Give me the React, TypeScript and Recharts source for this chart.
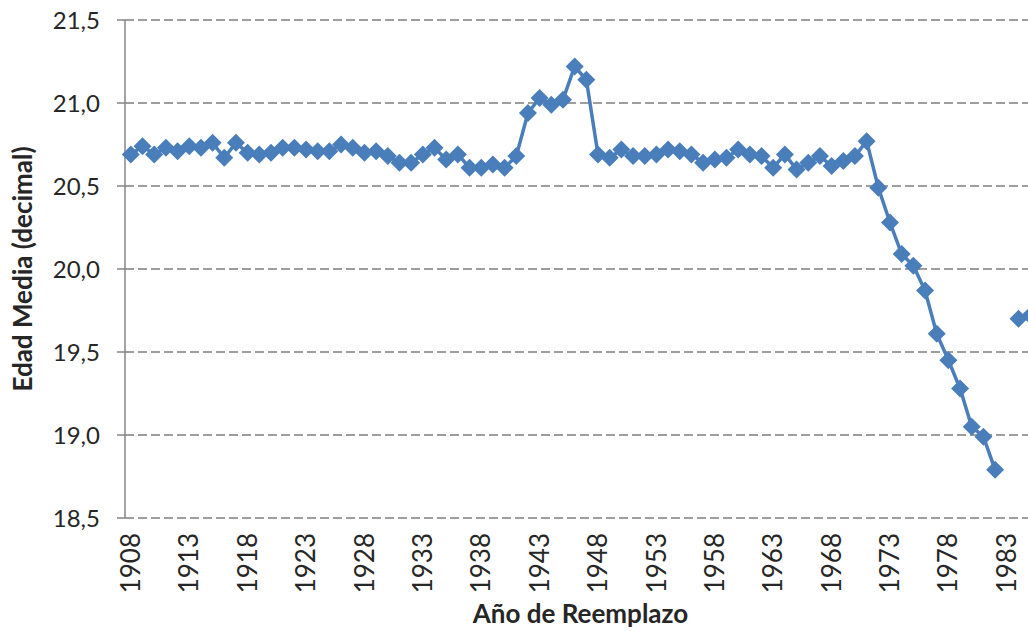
import React from 'react';
import { LineChart, Line, XAxis, YAxis, CartesianGrid } from 'recharts';

// one category per year, 1983 has no value
const years = [
  1908, 1909, 1910, 1911, 1912, 1913, 1914, 1915, 1916, 1917,
  1918, 1919, 1920, 1921, 1922, 1923, 1924, 1925, 1926, 1927,
  1928, 1929, 1930, 1931, 1932, 1933, 1934, 1935, 1936, 1937,
  1938, 1939, 1940, 1941, 1942, 1943, 1944, 1945, 1946, 1947,
  1948, 1949, 1950, 1951, 1952, 1953, 1954, 1955, 1956, 1957,
  1958, 1959, 1960, 1961, 1962, 1963, 1964, 1965, 1966, 1967,
  1968, 1969, 1970, 1971, 1972, 1973, 1974, 1975, 1976, 1977,
  1978, 1979, 1980, 1981, 1982, 1983, 1984, 1985,
];

const edadMedia: (number | null)[] = [
  20.69, 20.74, 20.69, 20.73, 20.71, 20.74, 20.73, 20.76, 20.67, 20.76,
  20.70, 20.69, 20.70, 20.73, 20.73, 20.72, 20.71, 20.71, 20.75, 20.73,
  20.70, 20.71, 20.68, 20.64, 20.64, 20.69, 20.73, 20.66, 20.69, 20.61,
  20.61, 20.63, 20.61, 20.68, 20.94, 21.03, 20.99, 21.02, 21.22, 21.14,
  20.69, 20.67, 20.72, 20.68, 20.68, 20.69, 20.72, 20.71, 20.69, 20.64,
  20.66, 20.67, 20.72, 20.69, 20.68, 20.61, 20.69, 20.60, 20.64, 20.68,
  20.62, 20.65, 20.68, 20.77, 20.49, 20.28, 20.09, 20.02, 19.87, 19.61,
  19.45, 19.28, 19.05, 18.99, 18.79, null, 19.70, 19.72,
];

const yearLabels = [1908, 1913, 1918, 1923, 1928, 1933, 1938, 1943, 1948, 1953, 1958, 1963, 1968, 1973, 1978, 1983];
// tick marks sit between categories
const tickMarks = [1907.5, 1912.5, 1917.5, 1922.5, 1927.5, 1932.5, 1937.5, 1942.5, 1947.5, 1952.5, 1957.5, 1962.5, 1967.5, 1972.5, 1977.5, 1982.5];
const xDomain = [1907.5, 1985.5];
const yTicks = [18.5, 19, 19.5, 20, 20.5, 21, 21.5];

const data = years.map((year, i) => ({ year, edad: edadMedia[i] }));

const BLUE = '#4a7ebb';
const AXIS = '#868686';
const TEXT = '#262626';
const FONT = 'Lato, "Open Sans", sans-serif';

const Diamond = (props: any) => {
  const { cx, cy, value, index } = props;
  if (cx == null || cy == null || value == null) return <g key={`d-${index}`} />;
  const r = 9;
  return (
    <polygon
      key={`d-${index}`}
      points={`${cx},${cy - r} ${cx + r},${cy} ${cx},${cy + r} ${cx - r},${cy}`}
      fill={BLUE}
    />
  );
};

const YearTick = ({ x, y, payload }: any) => (
  <text
    x={x}
    y={y}
    transform={`rotate(-90, ${x}, ${y})`}
    textAnchor="end"
    dy="0.35em"
    fill={TEXT}
    fontSize={26}
    fontFamily={FONT}
  >
    {payload.value}
  </text>
);

const YTitle = ({ viewBox }: any) => {
  const cx = viewBox.x + 23;
  const cy = viewBox.y + viewBox.height / 2;
  return (
    <text
      x={cx}
      y={cy}
      transform={`rotate(-90, ${cx}, ${cy})`}
      textAnchor="middle"
      dy="0.35em"
      fill={TEXT}
      fontSize={26}
      fontWeight="bold"
      fontFamily={FONT}
    >
      Edad Media (decimal)
    </text>
  );
};

export default function App() {
  return (
    <div style={{ position: 'absolute', left: 0, top: 0, width: 1028, height: 631, overflow: 'hidden', background: '#fff' }}>
      <LineChart width={1046} height={631} data={data} margin={{ top: 20, right: 10, bottom: 0, left: 0 }}>
        <CartesianGrid
          xAxisId="labels"
          vertical={false}
          stroke="#7f7f7f"
          strokeWidth={1.5}
          strokeDasharray="9 4"
        />
        <XAxis
          xAxisId="marks"
          type="number"
          dataKey="year"
          domain={xDomain}
          ticks={tickMarks}
          tick={false}
          tickSize={8}
          height={0}
          stroke={AXIS}
          strokeWidth={1.5}
        />
        <XAxis
          xAxisId="labels"
          type="number"
          dataKey="year"
          domain={xDomain}
          ticks={yearLabels}
          interval={0}
          axisLine={false}
          tickLine={false}
          tickSize={0}
          tickMargin={15}
          tick={<YearTick />}
          height={113}
          label={{ value: 'Año de Reemplazo', position: 'insideBottom', offset: 8, fill: TEXT, fontSize: 26, fontWeight: 'bold', fontFamily: FONT }}
        />
        <YAxis
          type="number"
          domain={[18.5, 21.5]}
          ticks={yTicks}
          interval={0}
          width={125}
          tickSize={8}
          tickMargin={17}
          stroke={AXIS}
          strokeWidth={1.5}
          tick={{ fill: TEXT, fontSize: 24, fontFamily: FONT }}
          tickFormatter={(v: number) => v.toFixed(1).replace('.', ',')}
          label={<YTitle />}
        />
        <Line
          xAxisId="labels"
          type="linear"
          dataKey="edad"
          stroke={BLUE}
          strokeWidth={3.5}
          dot={Diamond}
          activeDot={false}
          connectNulls={false}
          isAnimationActive={false}
        />
      </LineChart>
    </div>
  );
}
